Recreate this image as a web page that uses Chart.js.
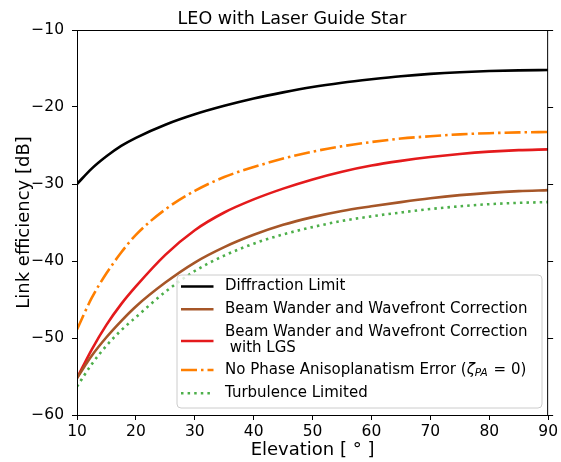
<!DOCTYPE html>
<html><head><meta charset="utf-8">
<script src="https://cdn.jsdelivr.net/npm/chart.js@4/dist/chart.umd.min.js"></script>
<style>html,body{margin:0;padding:0;background:#fff;}canvas{display:block;}</style>
</head><body>
<canvas id="c" width="561" height="462"></canvas>
<script>
const title = 'LEO with Laser Guide Star';
const xLabel = 'Elevation [ \u00B0 ]';
const yLabel = 'Link efficiency [dB]';
const xTicks = [10, 20, 30, 40, 50, 60, 70, 80, 90];
const yTicks = [-60, -50, -40, -30, -20, -10];
const elevation = [10, 12.5, 15, 17.5, 20, 25, 30, 35, 40, 45, 50, 55, 60, 65, 70, 75, 80, 85, 90];
const diffractionLimit = [-30.0, -28.0, -26.4, -25.05, -24.0, -22.3, -20.95, -19.85, -18.9, -18.1, -17.4, -16.85, -16.4, -16.0, -15.7, -15.48, -15.33, -15.24, -15.2];
const beamWander = [-55.2, -52.3, -49.9, -47.8, -45.9, -42.8, -40.2, -38.2, -36.6, -35.3, -34.3, -33.5, -32.9, -32.35, -31.85, -31.45, -31.15, -30.93, -30.8];
const beamWanderLGS = [-55.2, -51.5, -48.3, -45.6, -43.3, -39.2, -36.0, -33.7, -32.0, -30.6, -29.4, -28.4, -27.6, -27.0, -26.5, -26.1, -25.8, -25.6, -25.5];
const noPhaseAniso = [-48.9, -44.8, -41.6, -38.9, -36.6, -33.3, -30.9, -29.1, -27.8, -26.7, -25.8, -25.1, -24.55, -24.1, -23.8, -23.55, -23.4, -23.3, -23.25];
const turbulenceLimited = [-56.3, -53.4, -51.0, -49.0, -47.3, -44.0, -41.3, -39.3, -37.75, -36.55, -35.6, -34.8, -34.2, -33.7, -33.25, -32.9, -32.62, -32.45, -32.35];
const seriesLabels = ['Diffraction Limit', 'Beam Wander and Wavefront Correction', 'Beam Wander and Wavefront Correction\n with LGS', 'No Phase Anisoplanatism Error (\u03B6_PA = 0)', 'Turbulence Limited'];

const FONT = 'DejaVu Sans';
const colors = ['#000000', '#a65628', '#e41a1c', '#ff7f00', '#4daf4a'];
const dashes = [[], [], [], [16, 4, 2.5, 4], [2.5, 4.1]];
const seriesValues = [diffractionLimit, beamWander, beamWanderLGS, noPhaseAniso, turbulenceLimited];

const datasets = seriesValues.map((vals, i) => ({
  label: seriesLabels[i],
  data: elevation.map((e, j) => ({x: e, y: vals[j]})),
  borderColor: colors[i],
  backgroundColor: colors[i],
  borderWidth: 2.6,
  borderDash: dashes[i],
  borderCapStyle: 'butt',
  pointRadius: 0,
  fill: false,
  cubicInterpolationMode: 'monotone'
}));

const fmt = v => v < 0 ? '\u2212' + Math.abs(v) : String(v);

const decor = {
  id: 'decor',
  afterDraw(chart) {
    const ctx = chart.ctx;
    const a = chart.chartArea;
    const ys = chart.scales.y;
    ctx.save();
    ctx.strokeStyle = '#000';
    ctx.lineWidth = 1;
    ctx.strokeRect(a.left + 0.5, a.top + 0.5, a.right - a.left - 1, a.bottom - a.top);
    yTicks.forEach(v => {
      const p = Math.round(ys.getPixelForValue(v)) + 0.5;
      ctx.beginPath(); ctx.moveTo(a.right - 0.5, p); ctx.lineTo(a.right + 5, p); ctx.stroke();
    });
    ctx.fillStyle = '#000';
    ctx.textAlign = 'center';
    ctx.textBaseline = 'alphabetic';
    ctx.font = '17.5px "' + FONT + '"';
    ctx.fillText(title, 292, 24);
    ctx.font = '18px "' + FONT + '"';
    ctx.fillText(xLabel, (a.left + a.right) / 2, 455);
    ctx.save();
    ctx.translate(29, (a.top + a.bottom) / 2);
    ctx.rotate(-Math.PI / 2);
    ctx.fillText(yLabel, 0, 0);
    ctx.restore();

    const bx = 177, by = 275, bw = 365, bh = 133, r = 4;
    ctx.beginPath();
    ctx.moveTo(bx + r, by);
    ctx.arcTo(bx + bw, by, bx + bw, by + bh, r);
    ctx.arcTo(bx + bw, by + bh, bx, by + bh, r);
    ctx.arcTo(bx, by + bh, bx, by, r);
    ctx.arcTo(bx, by, bx + bw, by, r);
    ctx.closePath();
    ctx.fillStyle = 'rgba(255,255,255,0.8)';
    ctx.fill();
    ctx.strokeStyle = '#cccccc';
    ctx.lineWidth = 1;
    ctx.stroke();

    const handleY = [286.5, 309.3, 341, 370, 393.3];
    const textY = [[286.5], [309.3], [331.7, 348.3], [370], [393.3]];
    ctx.font = '15px "' + FONT + '"';
    ctx.textAlign = 'left';
    ctx.textBaseline = 'middle';
    datasets.forEach((d, i) => {
      ctx.strokeStyle = d.borderColor;
      ctx.lineWidth = 2.6;
      ctx.lineCap = 'butt';
      ctx.setLineDash(d.borderDash);
      ctx.beginPath();
      ctx.moveTo(181, handleY[i]);
      ctx.lineTo(213.5, handleY[i]);
      ctx.stroke();
      ctx.setLineDash([]);
      ctx.fillStyle = '#000';
      const lbl = d.label;
      if (lbl.indexOf('_PA') >= 0) {
        const parts = lbl.split('\u03B6_PA');
        let x = 225;
        const y = textY[i][0];
        ctx.font = '15px "' + FONT + '"';
        ctx.fillText(parts[0], x, y); x += ctx.measureText(parts[0]).width;
        ctx.font = 'italic 15px "' + FONT + '"';
        ctx.fillText('\u03B6', x, y); x += ctx.measureText('\u03B6').width;
        ctx.font = 'italic 10.5px "' + FONT + '"';
        ctx.fillText('PA', x, y + 3.5); x += ctx.measureText('PA').width + 1;
        ctx.font = '15px "' + FONT + '"';
        ctx.fillText(parts[1], x, y);
      } else {
        lbl.split('\n').forEach((t, k) => ctx.fillText(t, 225, textY[i][k]));
      }
    });
    ctx.restore();
  }
};

new Chart(document.getElementById('c').getContext('2d'), {
  type: 'line',
  data: {datasets},
  options: {
    responsive: false,
    animation: false,
    devicePixelRatio: 1,
    layout: {padding: {top: 30, right: 12, left: 0, bottom: 0}},
    plugins: {legend: {display: false}, title: {display: false}, tooltip: {enabled: false}},
    scales: {
      x: {
        type: 'linear', min: 10, max: 90,
        afterBuildTicks: s => { s.ticks = xTicks.map(v => ({value: v})); },
        ticks: {autoSkip: false, maxRotation: 0, color: '#000', padding: 3, font: {family: FONT, size: 15.5}, callback: fmt},
        grid: {drawOnChartArea: false, drawTicks: true, tickLength: 5, color: '#000', lineWidth: 1},
        border: {display: false},
        afterFit: s => { s.height = 47; }
      },
      y: {
        type: 'linear', min: -60, max: -10,
        afterBuildTicks: s => { s.ticks = yTicks.map(v => ({value: v})); },
        ticks: {autoSkip: false, color: '#000', padding: 8, font: {family: FONT, size: 15.5}, callback: fmt},
        grid: {drawOnChartArea: false, drawTicks: true, tickLength: 5, color: '#000', lineWidth: 1},
        border: {display: false},
        afterFit: s => { s.width = 77; }
      }
    }
  },
  plugins: [decor]
});
</script>
</body></html>
